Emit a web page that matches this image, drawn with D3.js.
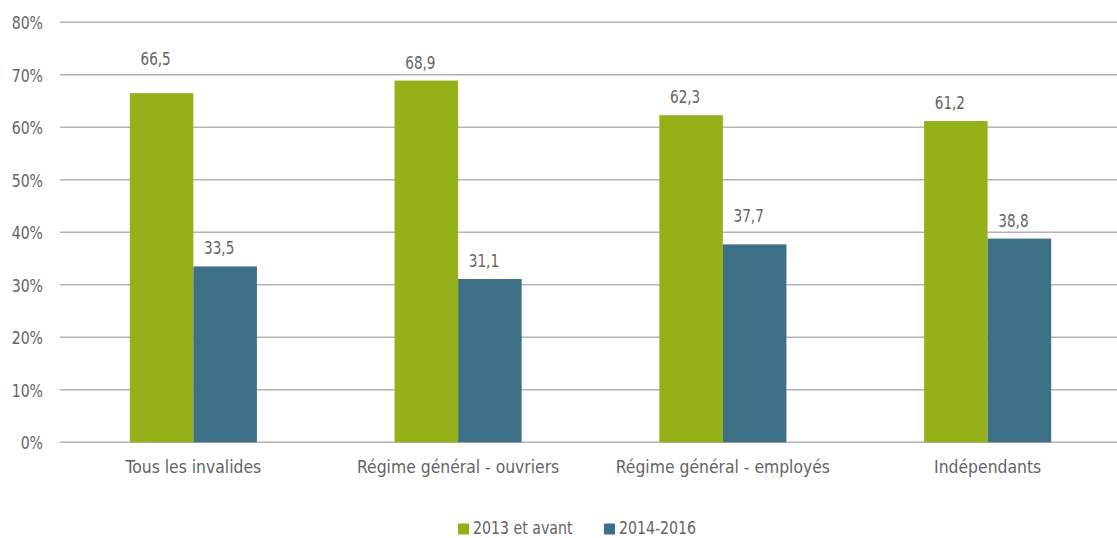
<!DOCTYPE html>
<html lang="fr">
<head>
<meta charset="utf-8">
<script src="https://cdn.jsdelivr.net/npm/d3@7"></script>
<style>
  html, body { margin: 0; padding: 0; background: #fff; }
  svg text { font-family: "Liberation Sans Narrow", "Arial Narrow", "DejaVu Sans Condensed", "Roboto", sans-serif; fill: #646464; }
</style>
</head>
<body>
<svg id="chart" width="1117" height="538"></svg>
<script>
// Part des invalides selon l'ancienneté de la pension
const categories = ["Tous les invalides", "Régime général - ouvriers", "Régime général - employés", "Indépendants"];
const seriesNames = ["2013 et avant", "2014-2016"];
const values2013 = [66.5, 68.9, 62.3, 61.2];
const values2014 = [33.5, 31.1, 37.7, 38.8];
const yTicks = [0, 10, 20, 30, 40, 50, 60, 70, 80];
const colors = ["#94b11a", "#3e7085"];

const svg = d3.select("#chart");
const W = 1117;

// narrow the glyphs horizontally to get a condensed face
function placeText(sel, x, y, sx) {
  sel.attr("x", 0).attr("y", 0)
     .attr("transform", (d, i) => `translate(${typeof x === "function" ? x(d, i) : x},${typeof y === "function" ? y(d, i) : y}) scale(${sx},1)`);
}

const x0 = d3.scaleBand().domain(categories).range([61, 1120]).paddingInner(0.52).paddingOuter(0.26);
const x1 = d3.scaleBand().domain(seriesNames).range([0, x0.bandwidth()]);
const y = d3.scaleLinear().domain([0, 80]).range([442.3, 22.3]);
const color = d3.scaleOrdinal().domain(seriesNames).range(colors);

// gridlines
svg.append("g").selectAll("line").data(yTicks).join("line")
  .attr("x1", 60).attr("x2", W)
  .attr("y1", d => y(d)).attr("y2", d => y(d))
  .attr("stroke", "#b3b3b3").attr("stroke-width", 1.5);

// percentage labels
const yAxis = d3.axisLeft(y).tickValues(yTicks).tickSize(0).tickPadding(0).tickFormat(d => d + "%");
const gAxis = svg.append("g").attr("transform", "translate(43,0)").call(yAxis);
gAxis.select(".domain").remove();
gAxis.selectAll(".tick text").attr("font-size", 18).attr("dy", "0.36em").attr("fill", "#646464")
  .attr("x", 0).attr("transform", "scale(0.87,1)");

// bars
const rows = categories.map((c, i) => ({ cat: c, vals: [values2013[i], values2014[i]] }));
const groups = svg.append("g").selectAll("g").data(rows).join("g")
  .attr("transform", d => `translate(${x0(d.cat)},0)`);

groups.selectAll("rect").data(d => d.vals.map((v, j) => ({ key: seriesNames[j], v })))
  .join("rect")
  .attr("x", d => x1(d.key))
  .attr("width", x1.bandwidth())
  .attr("y", d => y(d.v))
  .attr("height", d => y(0) - y(d.v))
  .attr("fill", d => color(d.key));

// value labels: above each bar, lifted clear of any gridline they would cross
const gridY = yTicks.map(t => y(t));
function labelBaseline(v) {
  let b = y(v) - 12;
  for (const g of gridY) {
    if (g > b - 15 && g < b + 3) { b = g - 10; }
  }
  return b;
}
groups.selectAll("text.val").data(d => d.vals.map((v, j) => ({ key: seriesNames[j], v })))
  .join("text")
  .attr("class", "val")
  .attr("text-anchor", "middle")
  .attr("font-size", 18)
  .text(d => d3.format(".1f")(d.v).replace(".", ","))
  .call(placeText, d => x1(d.key) + x1.bandwidth() / 2 - 6, d => labelBaseline(d.v), 0.84);

// category labels
const xAxis = d3.axisBottom(x0).tickSize(0).tickPadding(0);
const gx = svg.append("g").attr("transform", "translate(0,473)").call(xAxis);
gx.select(".domain").remove();
gx.selectAll(".tick text").attr("font-size", 18).attr("dy", 0).attr("y", 0).attr("fill", "#646464")
  .attr("transform", "scale(0.965,1)");

// legend
const legendX = [458, 604];
const legend = svg.append("g").selectAll("g").data(seriesNames).join("g")
  .attr("transform", (d, i) => `translate(${legendX[i]},523.5)`);
legend.append("rect").attr("width", 11).attr("height", 11).attr("fill", d => color(d));
legend.append("text").attr("font-size", 17.5).text(d => d)
  .call(placeText, 15, 10.5, 0.9);
</script>
</body>
</html>
